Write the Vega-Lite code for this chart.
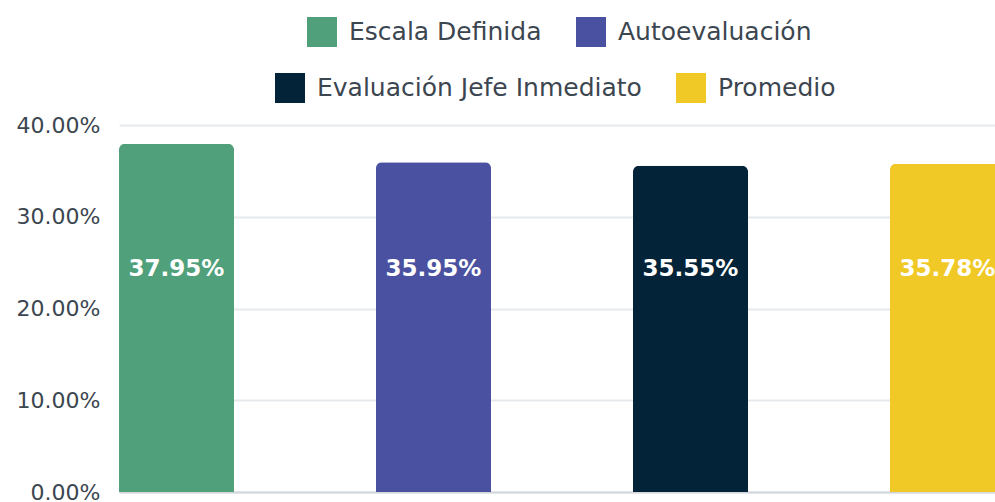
{
  "$schema": "https://vega.github.io/schema/vega-lite/v6.json",
  "width": 877,
  "height": 367,
  "autosize": {"type": "none"},
  "padding": {"left": 118, "top": 125, "right": 0, "bottom": 10},
  "background": "white",
  "data": {
    "values": [
      {"serie": "Escala Definida", "valor": 0.3795},
      {"serie": "Autoevaluación", "valor": 0.3595},
      {"serie": "Evaluación Jefe Inmediato", "valor": 0.3555},
      {"serie": "Promedio", "valor": 0.3578}
    ]
  },
  "layer": [
    {
      "transform": [{"filter": {"field": "serie", "oneOf": ["Escala Definida", "Autoevaluación"]}}],
      "mark": {"type": "bar", "cornerRadiusTopLeft": 6, "cornerRadiusTopRight": 6},
      "encoding": {
        "x": {
          "field": "serie", "type": "nominal",
          "scale": {"domain": ["Escala Definida", "Autoevaluación", "Evaluación Jefe Inmediato", "Promedio"], "rangeMin": 1, "rangeMax": 887, "paddingInner": 0.5525, "paddingOuter": 0},
          "axis": {"labels": false, "ticks": false, "title": null, "grid": false, "domainColor": "#d3d7db", "domainWidth": 2}
        },
        "y": {
          "field": "valor", "type": "quantitative",
          "scale": {"domain": [0, 0.4]},
          "axis": {"format": ".2%", "values": [0, 0.1, 0.2, 0.3, 0.4], "title": null, "domain": false, "ticks": false, "labelPadding": 18, "labelFontSize": 22, "labelFont": "DejaVu Sans", "labelColor": "#3c4650", "gridColor": "#e6e9ec", "gridWidth": 2}
        },
        "color": {
          "field": "serie", "type": "nominal",
          "scale": {"domain": ["Escala Definida", "Autoevaluación"], "range": ["#50a07b", "#4a51a0"]},
          "legend": {"orient": "none", "legendX": 189, "legendY": -108, "direction": "horizontal", "title": null}
        }
      }
    },
    {
      "transform": [{"filter": {"field": "serie", "oneOf": ["Evaluación Jefe Inmediato", "Promedio"]}}],
      "mark": {"type": "bar", "cornerRadiusTopLeft": 6, "cornerRadiusTopRight": 6},
      "encoding": {
        "x": {"field": "serie", "type": "nominal"},
        "y": {"field": "valor", "type": "quantitative"},
        "fill": {
          "field": "serie", "type": "nominal",
          "scale": {"domain": ["Evaluación Jefe Inmediato", "Promedio"], "range": ["#032338", "#f0c926"]},
          "legend": {"orient": "none", "legendX": 157, "legendY": -52, "direction": "horizontal", "title": null}
        }
      }
    },
    {
      "mark": {"type": "text", "color": "white", "font": "DejaVu Sans", "fontWeight": "bold", "fontSize": 23, "baseline": "middle"},
      "encoding": {
        "x": {"field": "serie", "type": "nominal"},
        "y": {"datum": 0.2428},
        "text": {"field": "valor", "type": "quantitative", "format": ".2%"}
      }
    }
  ],
  "resolve": {"scale": {"color": "independent", "fill": "independent"}},
  "config": {
    "view": {"stroke": null},
    "legend": {
      "symbolType": "square",
      "symbolSize": 900,
      "symbolStrokeWidth": 0,
      "symbolOpacity": 1,
      "labelFontSize": 25,
      "labelFont": "DejaVu Sans",
      "labelColor": "#3c4650",
      "labelLimit": 500,
      "columnPadding": 34,
      "labelOffset": 12,
      "padding": 0
    }
  }
}
